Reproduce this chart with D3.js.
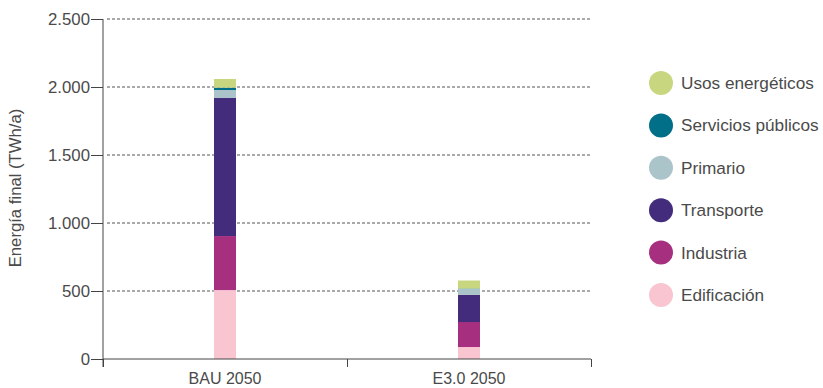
<!DOCTYPE html>
<html><head><meta charset="utf-8">
<script src="https://cdn.jsdelivr.net/npm/d3@7"></script>
<style>
body{margin:0;background:#fff;}
text{font-family:"Liberation Sans",Arial,sans-serif;fill:#4a4a4a;}
</style></head>
<body><svg id="c" width="823" height="388"></svg>
<script>
const categories = ["BAU 2050", "E3.0 2050"];
const seriesNames = ["Edificación", "Industria", "Transporte", "Primario", "Servicios públicos", "Usos energéticos"];
const edificacion = [507, 88];
const industria = [397, 184];
const transporte = [1015, 199];
const primario = [59, 44];
const servicios = [17, 3];
const usos = [64, 59];
const seriesColors = ["#f8c5d1", "#a6307f", "#432c7b", "#abc4c9", "#006f87", "#c8d77f"];
const yTicks = [0, 500, 1000, 1500, 2000, 2500];
const yTickLabels = ["0", "500", "1.000", "1.500", "2.000", "2.500"];

(function () {
const seriesValues = [edificacion, industria, transporte, primario, servicios, usos];
const rows = categories.map((c, i) => {
  const r = {cat: c};
  seriesNames.forEach((s, j) => r[s] = seriesValues[j][i]);
  return r;
});
const stacked = d3.stack().keys(seriesNames)(rows);

const svg = d3.select("#c");
const mLeft = 103, mRight = 591, mTop = 19, mBottom = 359;
const y = d3.scaleLinear().domain([0, 2500]).range([mBottom, mTop]);
const x = d3.scaleBand().domain(categories).range([mLeft, mRight]).paddingInner(0.9098).paddingOuter(0.4549);
const color = d3.scaleOrdinal().domain(seriesNames).range(seriesColors);

// gridlines
svg.append("g").selectAll("line").data(yTicks.filter(d => d > 0)).join("line")
  .attr("x1", mLeft + 4).attr("x2", mRight + 1)
  .attr("y1", d => y(d)).attr("y2", d => y(d))
  .attr("stroke", "#555").attr("stroke-width", 1).attr("stroke-dasharray", "3,2");

// bars
svg.append("g").selectAll("g").data(stacked).join("g")
  .attr("fill", d => color(d.key))
  .selectAll("rect").data(d => d).join("rect")
  .attr("x", d => x(d.data.cat))
  .attr("width", x.bandwidth())
  .attr("y", d => y(d[1]))
  .attr("height", d => y(d[0]) - y(d[1]));

// y axis
const yAxis = d3.axisLeft(y).tickValues(yTicks).tickFormat((d, i) => yTickLabels[i]).tickSize(12).tickPadding(1);
const gy = svg.append("g").attr("transform", `translate(${mLeft},0)`).call(yAxis);
gy.select(".domain").attr("d", `M0,${mTop}V${mBottom + 8}`).attr("stroke", "#444");
gy.selectAll(".tick line").attr("stroke", "#444");
gy.selectAll(".tick text").style("font-size", "16.8px").attr("fill", "#4a4a4a");

// x axis
const xt = d3.scaleLinear().domain([0, categories.length]).range([mLeft, mRight]);
const xAxis = d3.axisBottom(xt).tickValues(d3.range(categories.length + 1)).tickFormat("").tickSize(8);
const gx = svg.append("g").attr("transform", `translate(0,${mBottom})`).call(xAxis);
gx.select(".domain").attr("d", `M${mLeft},0H${mRight}`).attr("stroke", "#444");
gx.selectAll(".tick line").attr("stroke", "#444");
svg.append("g").selectAll("text").data(categories).join("text")
  .attr("x", d => x(d) + x.bandwidth() / 2)
  .attr("y", mBottom + 25)
  .attr("text-anchor", "middle")
  .style("font-size", "16px")
  .text(d => d);

// y label
svg.append("text")
  .attr("transform", `translate(21,188) rotate(-90)`)
  .attr("text-anchor", "middle")
  .style("font-size", "16.7px")
  .text("Energía final (TWh/a)");

// legend
const legendOrder = seriesNames.slice().reverse();
const lg = svg.append("g").selectAll("g").data(legendOrder).join("g")
  .attr("transform", (d, i) => `translate(661,${83 + i * 42.4})`);
lg.append("circle").attr("r", 12).attr("fill", d => color(d));
lg.append("text").attr("x", 20).attr("dy", "0.35em").style("font-size", "17.2px").text(d => d);
})();
</script></body></html>
